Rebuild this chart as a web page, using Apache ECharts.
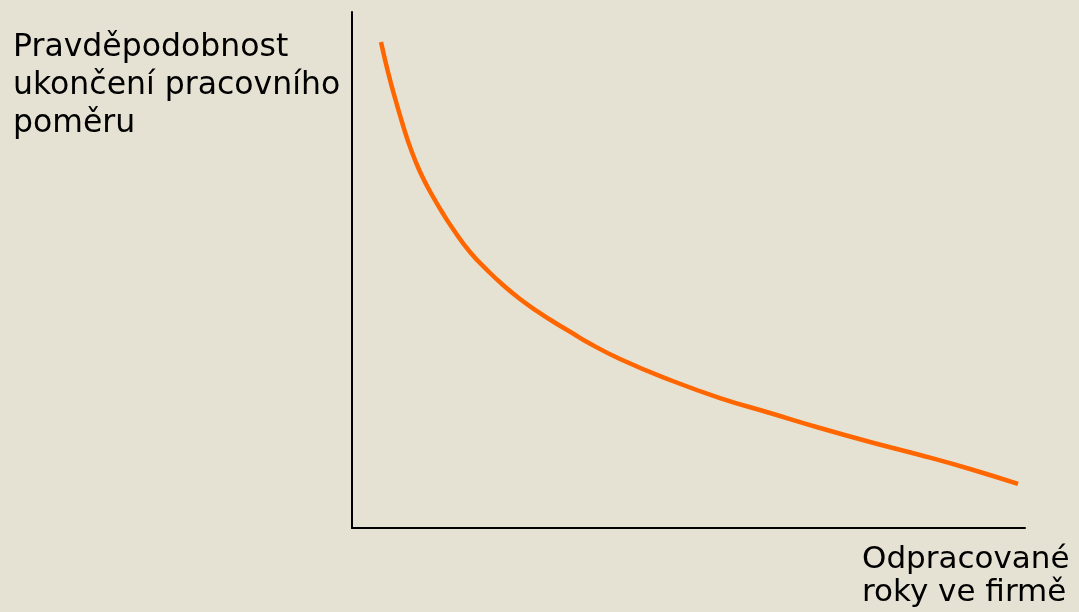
<!DOCTYPE html>
<html>
<head>
<meta charset="utf-8">
<script src="https://cdn.jsdelivr.net/npm/echarts@6/dist/echarts.min.js"></script>
<style>
  html, body { margin: 0; padding: 0; background: #E5E2D3; }
  #chart { width: 1079px; height: 612px; }
</style>
</head>
<body>
<div id="chart"></div>
<script>
// Years worked at the firm (relative scale 0–100)
const tenure = [4.31, 5.35, 6.39, 7.43, 8.32, 9.36, 10.40, 11.89, 13.37, 15.01, 17.53, 20.06, 22.44, 24.96, 27.49, 29.87, 32.84, 34.92, 39.82, 47.25, 54.68, 62.11, 69.54, 76.97, 84.40, 91.83, 98.96];
// Probability of ending the employment (relative scale 0–100)
const quitRate = [94.19, 88.37, 83.33, 78.68, 75.00, 71.32, 68.22, 64.53, 61.24, 57.95, 53.49, 50.00, 47.09, 44.38, 42.05, 40.02, 37.69, 36.05, 32.75, 28.68, 25.19, 22.29, 19.38, 16.67, 14.15, 11.43, 8.53];

const yLabel = 'Pravděpodobnost\nukončení pracovního\npoměru';
const xLabel = 'Odpracované\nroky ve firmě';

const chart = echarts.init(document.getElementById('chart'));
const font = '"DejaVu Sans", Verdana, sans-serif';

chart.setOption({
  animation: false,
  backgroundColor: '#E5E2D3',
  title: [
    {
      text: yLabel, left: 13, top: 29, padding: 0,
      textStyle: { fontFamily: font, fontSize: 31.5, fontWeight: 'normal', color: '#000', lineHeight: 38 }
    },
    {
      text: xLabel, left: 862, top: 543, padding: 0,
      textStyle: { fontFamily: font, fontSize: 31, fontWeight: 'normal', color: '#000', lineHeight: 33 }
    }
  ],
  grid: { left: 352, right: 54, top: 12, bottom: 84 },
  xAxis: {
    type: 'value', min: 0, max: 100,
    axisLine: { show: true, onZero: false, lineStyle: { color: '#000', width: 2 } },
    axisTick: { show: false }, axisLabel: { show: false }, splitLine: { show: false }
  },
  yAxis: {
    type: 'value', min: 0, max: 100,
    axisLine: { show: true, onZero: false, lineStyle: { color: '#000', width: 2 } },
    axisTick: { show: false }, axisLabel: { show: false }, splitLine: { show: false }
  },
  series: [{
    type: 'line',
    data: tenure.map((x, i) => [x, quitRate[i]]),
    smooth: 0.5,
    showSymbol: false,
    lineStyle: { color: '#FF6600', width: 4.5 }
  }]
});
</script>
</body>
</html>
